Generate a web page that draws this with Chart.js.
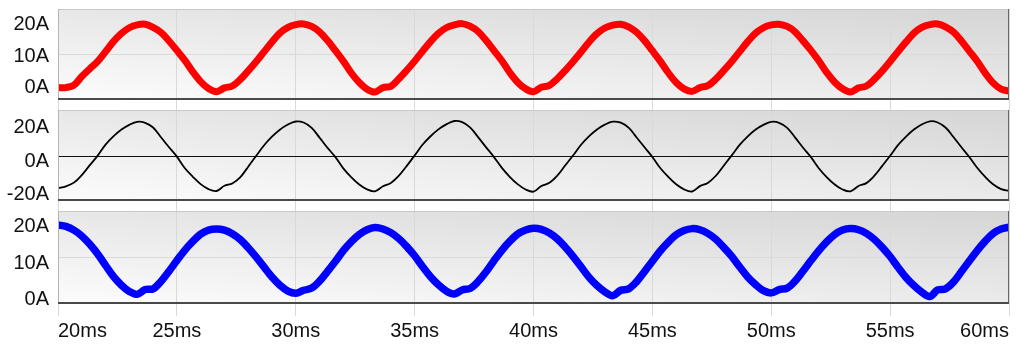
<!DOCTYPE html>
<html><head><meta charset="utf-8">
<script src="https://cdn.jsdelivr.net/npm/chart.js@4/dist/chart.umd.min.js"></script>
<style>html,body{margin:0;padding:0;background:#fff;}#wrap{width:1024px;height:351px;position:relative;}</style>
</head><body><div id="wrap"><canvas id="c"></canvas></div>
<script>
const timeMs = [20,20.33,20.67,21,21.33,21.67,22,22.33,22.67,23,23.33,23.67,24,24.33,24.67,25,25.33,25.67,26,26.33,
26.67,27,27.33,27.67,28,28.33,28.67,29,29.33,29.67,30,30.33,30.67,31,31.33,31.67,32,32.33,32.67,33,
33.33,33.67,34,34.33,34.67,35,35.33,35.67,36,36.33,36.67,37,37.33,37.67,38,38.33,38.67,39,39.33,39.67,
40,40.33,40.67,41,41.33,41.67,42,42.33,42.67,43,43.33,43.67,44,44.33,44.67,45,45.33,45.67,46,46.33,
46.67,47,47.33,47.67,48,48.33,48.67,49,49.33,49.67,50,50.33,50.67,51,51.33,51.67,52,52.33,52.67,53,
53.33,53.67,54,54.33,54.67,55,55.33,55.67,56,56.33,56.67,57,57.33,57.67,58,58.33,58.67,59,59.33,59.67,60];

const redCurrent = [-0.5,-0.5,0.3,3.0,5.4,7.8,10.9,14.1,16.7,18.5,19.4,19.6,18.6,17.0,14.3,11.3,8.2,4.5,1.4,-0.8,
-1.8,-0.6,0.0,2.1,4.8,7.7,10.9,14.0,16.8,18.6,19.5,19.7,18.9,17.2,14.5,11.2,7.9,4.2,1.1,-1.0,
-1.9,-0.5,-0.1,2.2,5.0,7.9,11.0,14.1,16.7,18.5,19.4,19.8,19.0,17.3,14.5,11.3,8.0,4.3,1.2,-0.9,
-1.8,-0.4,0.2,2.3,4.9,7.8,10.8,13.9,16.6,18.4,19.3,19.6,18.8,17.1,14.4,11.2,7.9,4.2,1.1,-0.9,
-1.7,-0.5,0.1,2.2,4.9,7.7,10.9,14.0,16.7,18.5,19.4,19.6,18.9,17.2,14.4,11.3,8.0,4.3,1.2,-0.9,
-1.9,-0.6,0.0,2.1,4.8,7.8,10.9,14.0,16.8,18.6,19.5,19.7,18.8,17.1,14.3,11.1,7.8,4.1,1.0,-1.0,
-1.6];

const blackCurrent = [-18.7,-17.5,-15.3,-10.8,-5.0,0.8,7.4,12.3,16.4,19.2,21.0,20.4,17.6,11.8,5.8,0.2,-6.6,-11.8,-16.2,-19.2,
-20.3,-17.2,-15.8,-12.0,-5.8,0.6,7.0,12.1,16.3,19.4,21.2,20.6,17.4,11.6,5.6,-0.1,-6.8,-12.0,-16.4,-19.3,
-20.5,-17.5,-15.5,-11.3,-5.3,0.9,7.3,12.4,16.5,19.5,21.5,20.8,17.7,11.9,5.9,0.1,-6.5,-11.8,-16.2,-19.4,
-20.7,-17.3,-15.4,-11.1,-5.1,1.0,7.3,12.3,16.4,19.3,21.1,20.5,17.5,11.8,5.8,0.0,-6.6,-11.9,-16.3,-19.3,
-20.6,-17.4,-15.5,-11.2,-5.2,0.8,7.2,12.2,16.3,19.2,21.0,20.4,17.4,11.7,5.7,-0.1,-6.7,-12.0,-16.4,-19.4,
-20.5,-17.3,-15.6,-11.3,-5.3,0.7,7.1,12.2,16.4,19.4,21.3,20.6,17.6,11.8,5.8,0.0,-6.6,-11.9,-16.3,-19.2,
-20.2];

const blueCurrent = [19.0,18.6,17.6,16.0,13.8,11.1,8.0,5.0,2.6,0.9,0.1,1.4,1.6,3.6,6.4,9.3,12.1,14.5,16.5,17.6,
17.9,17.6,16.6,15.0,12.8,10.3,7.5,4.8,2.6,1.0,0.4,1.2,1.8,3.7,6.3,9.1,12.0,14.4,16.4,17.7,
18.3,17.9,16.9,15.3,13.1,10.6,7.7,4.9,2.7,1.0,0.2,1.3,1.7,3.6,6.2,9.2,12.1,14.5,16.5,17.6,
18.1,17.8,16.8,15.2,13.0,10.4,7.6,4.8,2.5,0.8,-0.3,1.2,1.6,3.5,6.3,9.1,11.9,14.3,16.3,17.5,
18.0,17.7,16.7,15.1,12.9,10.5,7.6,4.9,2.8,1.1,0.5,1.4,1.8,3.7,6.4,9.3,12.0,14.4,16.4,17.6,
18.0,17.7,16.7,15.1,12.9,10.4,7.5,4.7,2.5,0.7,-0.5,1.3,1.6,3.5,6.3,9.2,12.1,14.6,16.7,17.9,
18.4];

const xTickValues = [20,25,30,35,40,45,50,55,60];
const topTickValues = [0,10,20];
const midTickValues = [-20,0,20];
const bottomTickValues = [0,10,20];

const FONT = {family:'"Liberation Sans", Arial, sans-serif', size:20};
const pts = v => timeMs.map((t,i)=>({x:t,y:v[i]}));

function yAxis(min,max,ticks,weight,labelOffset,gridValue,gridColor){
  return {
    type:'linear', position:'left', stack:'panels', stackWeight:weight,
    min:min, max:max,
    afterBuildTicks:s=>{ s.ticks = ticks.map(v=>({value:v})); },
    afterFit:s=>{ s.width = 58; s.paddingTop = 0; s.paddingBottom = 0; },
    border:{display:false},
    grid:{drawTicks:false, lineWidth:1,
      color:c=>(c.tick && c.tick.value===gridValue) ? gridColor : 'rgba(0,0,0,0)'},
    ticks:{padding:9, labelOffset:labelOffset, color:'#111', font:FONT, autoSkip:false,
      callback:v=>v+'A'}
  };
}
function spacer(weight){
  return {type:'linear', position:'left', stack:'panels', stackWeight:weight,
    afterFit:s=>{ s.width = 58; s.paddingTop = 0; s.paddingBottom = 0; },
    border:{display:false}, grid:{display:false}, ticks:{display:false}};
}

const panelBg = {
  id:'panelBg',
  beforeDraw(chart){
    const {ctx, chartArea:{left,right}} = chart;
    ctx.save();
    ['yA','yB','yC'].forEach(id=>{
      const s = chart.scales[id];
      const top=s.top, bottom=s.bottom, h=bottom-top, w=right-left;
      const k=0.08, H=(k*w+h)/(1+k*k);
      const g=ctx.createLinearGradient(left,bottom,left+k*H,bottom-H);
      g.addColorStop(0,'#fcfcfc'); g.addColorStop(0.5,'#e9e9e9'); g.addColorStop(1,'#d5d5d5');
      ctx.fillStyle=g; ctx.fillRect(left,top,w,h);
    });
    ctx.restore();
  },
  afterDatasetsDraw(chart){
    const {ctx, chartArea:{left,right}} = chart;
    ctx.save();
    ['yA','yB','yC'].forEach(id=>{
      const s = chart.scales[id];
      const top=Math.round(s.top), bottom=Math.round(s.bottom);
      ctx.lineWidth=1;
      ctx.strokeStyle='#c8c8c8';
      ctx.beginPath(); ctx.moveTo(left,top+0.5); ctx.lineTo(right,top+0.5); ctx.stroke();
      ctx.strokeStyle='#b4b4b4';
      ctx.beginPath(); ctx.moveTo(left+0.5,top); ctx.lineTo(left+0.5,bottom); ctx.stroke();
      ctx.strokeStyle='#666';
      ctx.beginPath(); ctx.moveTo(right-0.5,top); ctx.lineTo(right-0.5,bottom); ctx.stroke();
      ctx.lineWidth=2; ctx.strokeStyle='#4a4a4a';
      ctx.beginPath(); ctx.moveTo(left,bottom-1); ctx.lineTo(right,bottom-1); ctx.stroke();
    });
    ctx.restore();
  }
};

new Chart(document.getElementById('c'), {
  type:'line',
  data:{datasets:[
    {data:pts(redCurrent), yAxisID:'yA', borderColor:'#ff0000', borderWidth:7, pointRadius:0, tension:0.35},
    {data:pts(blackCurrent), yAxisID:'yB', borderColor:'#000000', borderWidth:1.8, pointRadius:0, tension:0.35},
    {data:pts(blueCurrent), yAxisID:'yC', borderColor:'#0000ff', borderWidth:7.5, pointRadius:0, tension:0.35}
  ]},
  options:{
    responsive:true, maintainAspectRatio:false, animation:false, devicePixelRatio:1,
    layout:{padding:{top:9,right:15,left:0,bottom:5}},
    plugins:{legend:{display:false}, tooltip:{enabled:false}},
    scales:{
      x:{type:'linear', min:20, max:60,
        afterBuildTicks:s=>{ s.ticks = xTickValues.map(v=>({value:v})); },
        afterFit:s=>{ s.paddingLeft = 0; s.paddingRight = 0; },
        border:{display:false},
        grid:{color:'#d9d9d9', lineWidth:1, tickLength:12, drawTicks:true},
        ticks:{align:'inner', padding:3, color:'#111', font:FONT, maxRotation:0, autoSkip:false,
          callback:v=>v+'ms'}},
      yC: yAxis(-2.53,22.8,bottomTickValues,93,5,10,'#dadada'),
      g2: spacer(10),
      yB: yAxis(-26.27,28.06,midTickValues,91,4,0,'#111111'),
      g1: spacer(10),
      yA: yAxis(-4.44,24.44,topTickValues,91,1.5,10,'#dadada')
    }
  },
  plugins:[panelBg]
});
</script></body></html>
